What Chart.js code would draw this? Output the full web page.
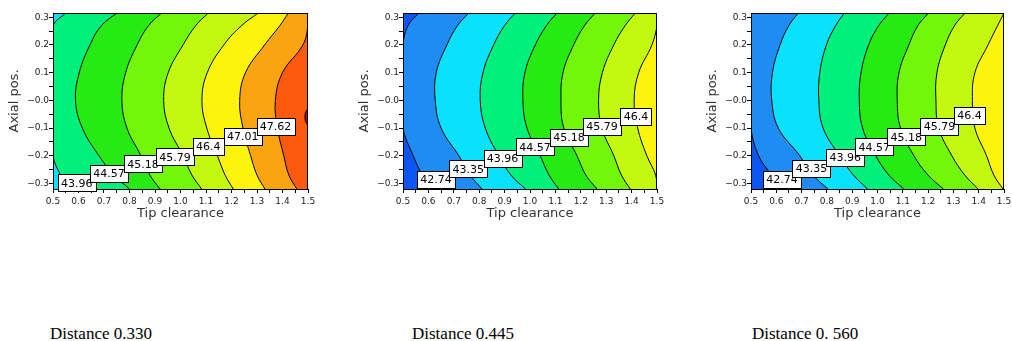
<!DOCTYPE html>
<html>
<head>
<meta charset="utf-8">
<script src="https://cdn.jsdelivr.net/npm/chart.js@4"></script>
<style>
  html, body { margin: 0; padding: 0; background: #fff; }
  body { width: 1012px; height: 341px; position: relative; overflow: hidden; }
  canvas { position: absolute; top: 0; }
  .caption { position: absolute; top: 325px; font: 17px "Liberation Serif", "Times New Roman", serif; line-height: 17px; color: #000; white-space: pre; }
</style>
</head>
<body>
<canvas id="c330" width="330" height="230" style="left:0px"></canvas>
<canvas id="c445" width="330" height="230" style="left:350px"></canvas>
<canvas id="c560" width="314" height="230" style="left:698px"></canvas>
<div class="caption" style="left:50px">Distance 0.330</div>
<div class="caption" style="left:412px">Distance 0.445</div>
<div class="caption" style="left:752px">Distance 0. 560</div>
<script>
// contour levels shared by the three plots, and the fill colour below / between them
const levels = [42.74, 43.35, 43.96, 44.57, 45.18, 45.79, 46.4, 47.01, 47.62, 48.23];
const levelColors = ["#0b55f2", "#1f8cf3", "#08e2fd", "#00f07c", "#25ea14", "#72f70a",
                     "#c3f90e", "#fcf40c", "#faa411", "#fd5a10", "#b2120a"];

const axialPos = [-0.32, -0.27, -0.2, -0.1, 0, 0.1, 0.2, 0.27, 0.315];

// Distance 0.330: tip clearance of each contour at axialPos
const levels330 = [43.96, 44.57, 45.18, 45.79, 46.4, 47.01, 47.62];
const clearance330 = [
  [0.567, 0.53, 0.5, 0.5, 0.5, 0.5, 0.5, 0.5, 0.55],
  [0.80, 0.74, 0.68, 0.615, 0.588, 0.603, 0.645, 0.69, 0.751],
  [0.92, 0.88, 0.845, 0.79, 0.77, 0.785, 0.83, 0.875, 0.926],
  [1.083, 1.045, 1.01, 0.955, 0.934, 0.952, 1.01, 1.06, 1.109],
  [1.207, 1.175, 1.145, 1.103, 1.084, 1.105, 1.17, 1.24, 1.305],
  [1.331, 1.3, 1.275, 1.245, 1.232, 1.255, 1.33, 1.39, 1.423],
  [1.456, 1.425, 1.405, 1.38, 1.372, 1.40, 1.48, 1.5, 1.5]
];
// small 48.23 peak at the right edge
const spotPos330 = [-0.03, -0.045, -0.075, -0.09];
const spotClear330 = [1.5, 1.49, 1.49, 1.5];
const labelClear330 = [0.593, 0.72, 0.853, 0.978, 1.109, 1.244, 1.373];
const labelPos330 = [-0.298, -0.263, -0.229, -0.204, -0.166, -0.131, -0.094];

// Distance 0.445
const levels445 = [42.74, 43.35, 43.96, 44.57, 45.18, 45.79, 46.4];
const clearance445 = [
  [0.60, 0.575, 0.54, 0.5, 0.5, 0.5, 0.5, 0.52, 0.562],
  [0.811, 0.765, 0.72, 0.65, 0.627, 0.631, 0.673, 0.715, 0.759],
  [0.982, 0.925, 0.877, 0.824, 0.804, 0.815, 0.857, 0.90, 0.942],
  [1.113, 1.075, 1.04, 0.988, 0.972, 0.98, 1.021, 1.065, 1.106],
  [1.264, 1.22, 1.185, 1.133, 1.122, 1.13, 1.172, 1.215, 1.257],
  [1.395, 1.36, 1.33, 1.283, 1.27, 1.285, 1.33, 1.375, 1.415],
  [1.5, 1.495, 1.46, 1.424, 1.41, 1.428, 1.48, 1.5, 1.5]
];
const labelClear445 = [0.630, 0.757, 0.892, 1.02, 1.154, 1.283, 1.417];
const labelPos445 = [-0.285, -0.247, -0.209, -0.168, -0.134, -0.094, -0.058];

// Distance 0.560
const levels560 = [42.74, 43.35, 43.96, 44.57, 45.18, 45.79, 46.4];
const clearance560 = [
  [0.61, 0.58, 0.53, 0.5, 0.5, 0.5, 0.5, 0.5, 0.5],
  [0.804, 0.745, 0.693, 0.608, 0.582, 0.585, 0.615, 0.65, 0.687],
  [0.961, 0.905, 0.85, 0.785, 0.768, 0.772, 0.798, 0.835, 0.869],
  [1.104, 1.045, 0.993, 0.941, 0.928, 0.935, 0.965, 1.005, 1.046],
  [1.261, 1.2, 1.144, 1.091, 1.078, 1.085, 1.124, 1.16, 1.202],
  [1.398, 1.345, 1.294, 1.242, 1.231, 1.235, 1.268, 1.305, 1.346],
  [1.496, 1.46, 1.431, 1.385, 1.375, 1.385, 1.437, 1.475, 1.5]
];
const labelClear560 = [0.623, 0.739, 0.873, 0.987, 1.114, 1.245, 1.364];
const labelPos560 = [-0.284, -0.245, -0.206, -0.168, -0.132, -0.093, -0.054];

const isMajor = v => Math.abs(Math.round(v * 10) - v * 10) < 1e-6;

// paints the region above the last contour
const plotBackground = {
  id: "plotBackground",
  beforeDraw(chart, args, opts) {
    const {ctx, chartArea: a} = chart;
    ctx.save();
    ctx.fillStyle = opts.color;
    ctx.fillRect(a.left, a.top, a.right - a.left, a.bottom - a.top);
    ctx.restore();
  }
};

// fills each contour line's path across to the plot edge, rightmost first
const contourFill = {
  id: "contourFill",
  beforeDatasetsDraw(chart) {
    const {ctx, chartArea: a} = chart;
    ctx.save();
    ctx.beginPath();
    ctx.rect(a.left, a.top, a.right - a.left, a.bottom - a.top);
    ctx.clip();
    for (let i = chart.data.datasets.length - 1; i >= 0; i--) {
      const ds = chart.data.datasets[i];
      const line = chart.getDatasetMeta(i).dataset;
      line.updateControlPoints(a, "y");
      const pts = line.points;
      const edge = ds.fillTo === "end" ? a.right : a.left;
      ctx.beginPath();
      line.path(ctx);
      ctx.lineTo(edge, pts[pts.length - 1].y);
      ctx.lineTo(edge, pts[0].y);
      ctx.closePath();
      ctx.fillStyle = ds.backgroundColor;
      ctx.fill();
    }
    ctx.restore();
  }
};

const plotFrame = {
  id: "plotFrame",
  afterDatasetsDraw(chart) {
    const {ctx, chartArea: a} = chart;
    ctx.save();
    ctx.strokeStyle = "#000";
    ctx.lineWidth = 1;
    ctx.strokeRect(Math.round(a.left) + 0.5, Math.round(a.top) + 0.5,
                   Math.round(a.right - a.left) - 1, Math.round(a.bottom - a.top));
    ctx.restore();
  }
};

const contourLabels = {
  id: "contourLabels",
  afterDraw(chart, args, opts) {
    const {ctx, scales: {x, y}} = chart;
    ctx.save();
    ctx.font = '11px "DejaVu Sans"';
    ctx.textAlign = "center";
    ctx.textBaseline = "middle";
    opts.text.forEach((t, i) => {
      const px = x.getPixelForValue(opts.clear[i]);
      const py = y.getPixelForValue(opts.pos[i]);
      const w = Math.round(ctx.measureText(t).width) + 7, h = 17;
      const left = Math.round(px - w / 2) + 0.5, top = Math.round(py - h / 2) + 0.5;
      ctx.fillStyle = "#fff";
      ctx.fillRect(left, top, w, h);
      ctx.strokeStyle = "#000";
      ctx.lineWidth = 1;
      ctx.strokeRect(left, top, w, h);
      ctx.fillStyle = "#000";
      ctx.fillText(t, px, py + 1);
    });
    ctx.restore();
  }
};

function makeChart(id, lv, clearance, labelClear, labelPos, padRight, spot) {
  const datasets = lv.map((level, k) => ({
    data: axialPos.map((y, i) => ({x: clearance[k][i], y: y})),
    fill: false,
    fillTo: "start",
    backgroundColor: levelColors[levels.indexOf(level)]
  }));
  if (spot) {
    datasets.push({
      data: spot.pos.map((y, i) => ({x: spot.clear[i], y: y})),
      fill: false,
      fillTo: "end",
      backgroundColor: levelColors[levels.indexOf(spot.level) + 1]
    });
  }
  const tickFont = {family: "DejaVu Sans", size: 9};
  const titleFont = {family: "DejaVu Sans", size: 13};

  return new Chart(document.getElementById(id), {
    type: "line",
    data: {datasets},
    options: {
      responsive: false,
      animation: false,
      indexAxis: "y",
      layout: {padding: {top: 13, right: padRight, left: 0, bottom: 0}},
      elements: {
        point: {radius: 0},
        line: {borderColor: "#000", borderWidth: 1, tension: 0.4}
      },
      plugins: {
        legend: {display: false},
        tooltip: {enabled: false},
        plotBackground: {color: levelColors[levels.indexOf(lv[lv.length - 1]) + 1]},
        contourLabels: {text: lv.map(String), clear: labelClear, pos: labelPos}
      },
      scales: {
        x: {
          type: "linear", position: "bottom", min: 0.5, max: 1.5, offset: false,
          afterFit: s => { s.height = 41; s.paddingLeft = 0; s.paddingRight = 0; },
          border: {display: true, color: "#000", width: 1},
          grid: {drawOnChartArea: false, drawTicks: true, tickLength: 4, tickColor: "#000"},
          ticks: {
            stepSize: 0.05, maxTicksLimit: 100, autoSkip: false, includeBounds: false,
            maxRotation: 0, minRotation: 0, padding: 3, color: "#222", font: tickFont,
            callback: v => isMajor(v) ? v.toFixed(1) : ""
          },
          title: {display: true, text: "Tip clearance", color: "#333", font: titleFont,
                  padding: {top: 0, bottom: 9}}
        },
        y: {
          type: "linear", position: "left", min: -0.32, max: 0.315, offset: false,
          afterFit: s => { s.width = 53; s.paddingTop = 0; s.paddingBottom = 0; },
          border: {display: true, color: "#000", width: 1},
          grid: {drawOnChartArea: false, drawTicks: true, tickLength: 4, tickColor: "#000"},
          ticks: {
            stepSize: 0.05, maxTicksLimit: 100, autoSkip: false, includeBounds: false,
            padding: 0, color: "#222", font: tickFont,
            callback: v => {
              if (!isMajor(v)) return "";
              if (Math.abs(v) < 1e-9) return "\u22120.0";
              return v < 0 ? "\u2212" + Math.abs(v).toFixed(1) : v.toFixed(1);
            }
          },
          title: {display: true, text: "Axial pos.", color: "#333", font: titleFont,
                  padding: {top: 7, bottom: 0}}
        }
      }
    },
    plugins: [plotBackground, contourFill, plotFrame, contourLabels]
  });
}

makeChart("c330", levels330, clearance330, labelClear330, labelPos330, 22,
          {level: 48.23, pos: spotPos330, clear: spotClear330});
makeChart("c445", levels445, clearance445, labelClear445, labelPos445, 23);
makeChart("c560", levels560, clearance560, labelClear560, labelPos560, 8);
</script>
</body>
</html>
